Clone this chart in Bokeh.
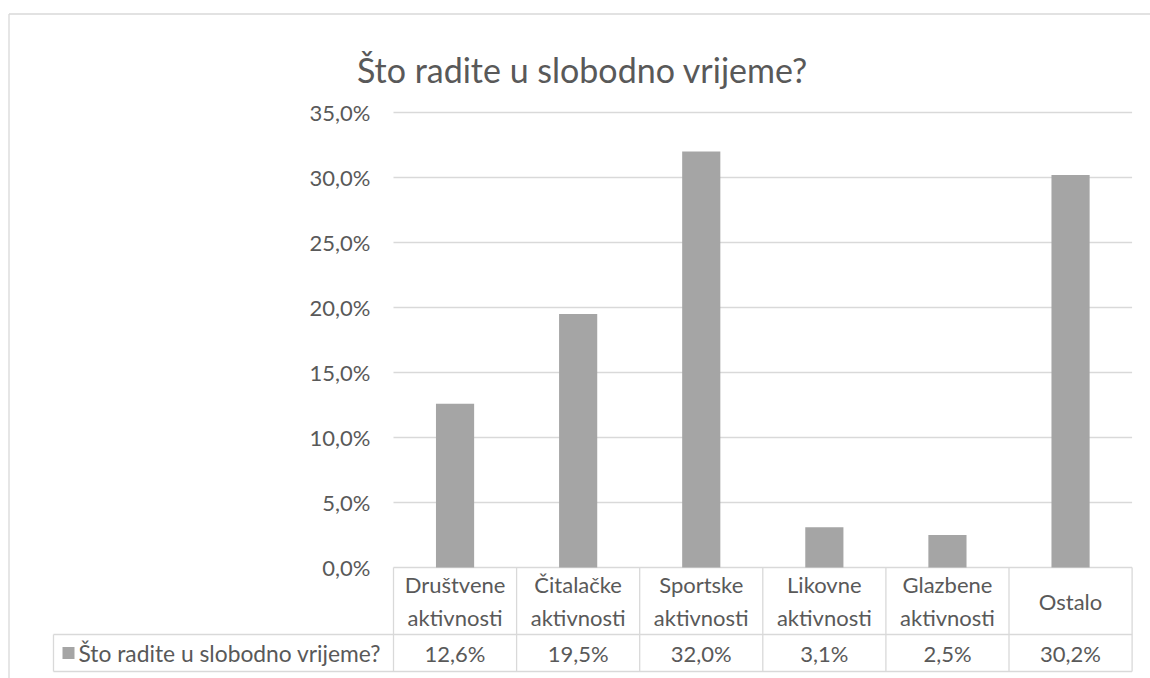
from bokeh.plotting import figure
from bokeh.models import Range1d
from bokeh.core.properties import value
from bokeh.embed import file_html
from bokeh.resources import INLINE

# ---------------- data ----------------
chart_title = "Što radite u slobodno vrijeme?"
series_name = "Što radite u slobodno vrijeme?"
categories = ["Društvene\naktivnosti", "Čitalačke\naktivnosti", "Sportske\naktivnosti",
              "Likovne\naktivnosti", "Glazbene\naktivnosti", "Ostalo"]
values = [12.6, 19.5, 32.0, 3.1, 2.5, 30.2]
y_ticks = [0, 5, 10, 15, 20, 25, 30, 35]
y_tick_labels = ["0,0%", "5,0%", "10,0%", "15,0%", "20,0%", "25,0%", "30,0%", "35,0%"]

# ---------------- layout (canvas pixels) ----------------
W, H = 1150, 678
X0 = 393.0          # canvas x of the first category cell
CELL = 123.1        # width of a category cell
Y0 = 567.0          # canvas y of 0 %
PPU = 13.0          # pixels per percentage unit
ROW1_BOTTOM = 634.0
ROW2_BOTTOM = 671.0
LEG_LEFT = 53.0

def sx(cx):
    return (cx - X0) / CELL

def sy(cy):
    return (Y0 - cy) / PPU

TEXT = "#595959"
LINE = "#D9D9D9"
BAR = "#A5A5A5"
FONT = value("Lato")

p = figure(width=W, height=H, output_backend="svg", toolbar_location=None,
           title=None, x_axis_location=None, y_axis_location=None,
           x_range=Range1d(sx(0), sx(W)), y_range=Range1d(sy(H), sy(0)),
           min_border=0, tools="")
p.outline_line_color = None
p.background_fill_color = "white"
p.border_fill_color = "white"
p.xgrid.visible = False
p.ygrid.visible = False

n = len(categories)
centers = [i + 0.5 for i in range(n)]

# outer chart border
p.segment(x0=[sx(8.5), sx(8.5)], y0=[sy(13.5), sy(13.5)], x1=[sx(8.5), sx(W)], y1=[sy(H), sy(13.5)],
          line_color=LINE, line_width=1.3)

# gridlines
p.segment(x0=[0] * len(y_ticks), x1=[n] * len(y_ticks), y0=y_ticks, y1=y_ticks,
          line_color=LINE, line_width=1.3)

# y tick labels
p.text(x=[sx(370)] * len(y_ticks), y=y_ticks, text=y_tick_labels, text_font=FONT,
       text_font_size="22px", text_color=TEXT, text_align="right", text_baseline="middle")

# bars
p.vbar(x=centers, top=values, bottom=0, width=0.31, fill_color=BAR, line_color=None)

# data table lines
r1 = sy(ROW1_BOTTOM)
r2 = sy(ROW2_BOTTOM)
xs0 = [sx(LEG_LEFT), sx(LEG_LEFT)] + list(range(n + 1)) + [sx(LEG_LEFT)]
xs1 = [n, n] + list(range(n + 1)) + [sx(LEG_LEFT)]
ys0 = [r1, r2] + [0] * (n + 1) + [r1]
ys1 = [r1, r2] + [r2] * (n + 1) + [r2]
p.segment(x0=xs0, y0=ys0, x1=xs1, y1=ys1, line_color=LINE, line_width=1.3)

# category labels
p.text(x=centers, y=[(0 + r1) / 2] * n, text=categories, text_font=FONT,
       text_font_size="22px", text_color=TEXT, text_align="center",
       text_baseline="middle", text_line_height=1.22)

# values row
value_labels = [f"{v:.1f}%".replace(".", ",") for v in values]
p.text(x=centers, y=[(r1 + r2) / 2] * n, text=value_labels, text_font=FONT,
       text_font_size="22px", text_color=TEXT, text_align="center", text_baseline="middle")

# legend key + series name
p.rect(x=[sx(68)], y=[(r1 + r2) / 2], width=12, height=12, width_units="screen",
       height_units="screen", fill_color=BAR, line_color=None)
p.text(x=[sx(78)], y=[(r1 + r2) / 2], text=[series_name], text_font=FONT,
       text_font_size="22.8px", text_color=TEXT, text_align="left", text_baseline="middle")

# title
p.text(x=[sx(582)], y=[sy(69)], text=[chart_title], text_font=FONT,
       text_font_size="34px", text_color=TEXT, text_align="center", text_baseline="alphabetic")

open("out.html", "w").write(file_html(p, INLINE))
